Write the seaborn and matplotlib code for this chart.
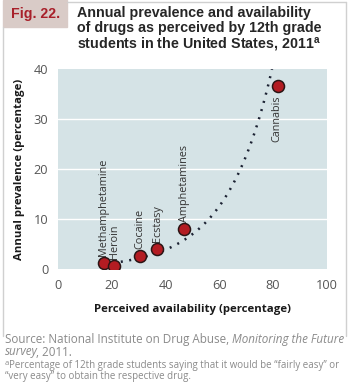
import numpy as np
import pandas as pd
import matplotlib.pyplot as plt
import seaborn as sns
from matplotlib.lines import Line2D
from matplotlib.patches import Rectangle

# values
drugs = ["Methamphetamine", "Heroin", "Cocaine", "Ecstasy", "Amphetamines", "Cannabis"]
availability = [17.1, 20.9, 30.5, 36.9, 47.0, 81.9]
prevalence = [1.2, 0.6, 2.7, 4.1, 8.1, 36.6]

x_ticks = [0, 20, 40, 60, 80, 100]
y_ticks = [0, 10, 20, 30, 40]

sns.set_theme(style="white")
plt.rcParams['font.family'] = ['Open Sans', 'DejaVu Sans']

df = pd.DataFrame({"drug": drugs, "availability": availability, "prevalence": prevalence})

# exponential trend line, fitted on log of prevalence
b, log_a = np.polyfit(df["availability"], np.log(df["prevalence"]), 1)
xs = np.linspace(min(availability), 100, 200)
trend = pd.DataFrame({"x": xs, "y": np.exp(log_a) * np.exp(b * xs)})
trend = trend[trend["y"] <= 40.5]

fig = plt.figure(figsize=(3.5, 3.86), dpi=100)
ax = fig.add_axes([0.1657, 0.3031, 0.934 - 0.1657, 0.8212 - 0.3031])
ax.set_facecolor("#d5e3e6")

sns.lineplot(data=trend, x="x", y="y", ax=ax, color="#1c2233", linewidth=1.8,
             linestyle=(0, (0.8, 2.6)), zorder=2)
sns.scatterplot(data=df, x="availability", y="prevalence", ax=ax, s=75,
                color="#b31c22", edgecolor="#2b1515", linewidth=1.1, zorder=3)

for name, xv, yv in zip(drugs, availability, prevalence):
    if name == "Cannabis":
        ax.annotate(name, (xv, yv), xytext=(-1, -7), textcoords="offset points",
                    rotation=90, ha="center", va="top", fontsize=7.8, color="#333333")
    else:
        ax.annotate(name, (xv, yv), xytext=(0, 5), textcoords="offset points",
                    rotation=90, ha="center", va="bottom", fontsize=7.8, color="#333333")

ax.set_xlim(0, 100)
ax.set_ylim(0, 40)
ax.set_xticks(x_ticks)
ax.set_yticks(y_ticks)
for yv in y_ticks[1:-1]:
    ax.axhline(yv, color="white", linewidth=1, zorder=1)
for s in ax.spines.values():
    s.set_visible(False)
ax.tick_params(axis="both", length=0, labelsize=9.2, labelcolor="#555555", pad=7)
ax.set_xlabel("Perceived availability (percentage)", fontsize=8.2, fontweight="bold",
              color="#1a1a1a", labelpad=9)
ax.set_ylabel("Annual prevalence (percentage)", fontsize=8.2, fontweight="bold",
              color="#1a1a1a", labelpad=6)

# header box and title
fig.add_artist(Rectangle((3 / 350, 1 - 27 / 386), 64 / 350, 27 / 386,
                         transform=fig.transFigure, color="#d9cbc7", zorder=0))
fig.text(36 / 350, 1 - 14 / 386, "Fig. 22.", fontsize=10.2, fontweight="bold",
         color="#a8202a", ha="center", va="center", family="Liberation Sans")
fig.text(77 / 350, 1 - 6 / 386,
         "Annual prevalence and availability\nof drugs as perceived by 12th grade\nstudents in the United States, 2011$^{\\mathregular{a}}$",
         fontsize=10.3, fontweight="bold", color="#262626", ha="left", va="top",
         family="Liberation Sans", linespacing=1.07)

# light frame around the figure panel
frame = "#d0d0d0"
fig.add_artist(Line2D([3 / 350, 3 / 350], [1 - 27 / 386, 1 - 336 / 386], color=frame, lw=1))
fig.add_artist(Line2D([67 / 350, 346 / 350], [1 - 2 / 386, 1 - 2 / 386], color=frame, lw=1))
fig.add_artist(Line2D([346 / 350, 346 / 350], [1 - 2 / 386, 1 - 336 / 386], color=frame, lw=1))

# source notes, one text per line, italic parts chained after the plain parts
grey = "#8a8a8a"
s1 = fig.text(5 / 350, 1 - 343 / 386, "Source: National Institute on Drug Abuse, ",
              fontsize=8.4, color=grey, ha="left", va="baseline")
ax.annotate("Monitoring the Future", xy=(1, 0), xycoords=s1, va="bottom", ha="left",
            fontsize=8.4, color=grey, style="italic", annotation_clip=False)
s2 = fig.text(5 / 350, 1 - 355.5 / 386, "survey", fontsize=8.4, color=grey,
              style="italic", ha="left", va="baseline")
ax.annotate(", 2011.", xy=(1, 0), xycoords=s2, xytext=(-1.5, 0), textcoords="offset points",
            va="bottom", ha="left", fontsize=8.4, color=grey, annotation_clip=False)
f1 = fig.text(5 / 350, 1 - 365 / 386, "a", fontsize=5.5, color=grey, ha="left", va="baseline")
ax.annotate("Percentage of 12th grade students saying that it would be \u201cfairly easy\u201d or",
            xy=(1, 0), xycoords=f1, xytext=(0, -3), textcoords="offset points",
            va="bottom", ha="left", fontsize=7.0, color=grey, annotation_clip=False)
fig.text(5 / 350, 1 - 379 / 386, "\u201cvery easy\u201d to obtain the respective drug.",
         fontsize=7.0, color=grey, ha="left", va="baseline")

fig.savefig("out.png", dpi=100)
